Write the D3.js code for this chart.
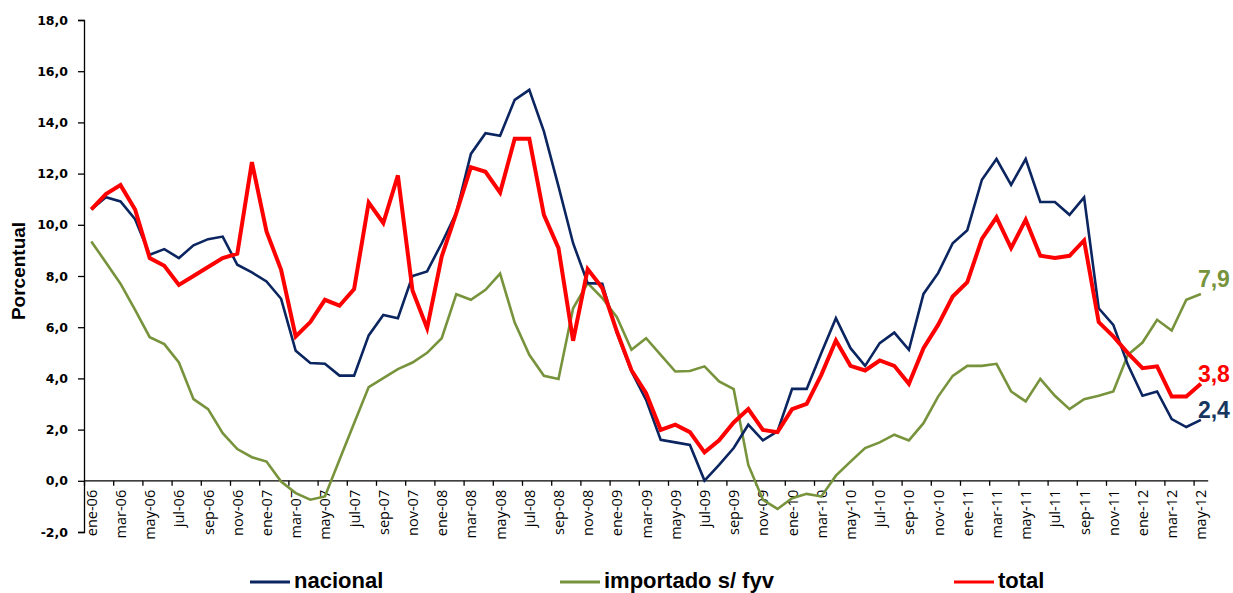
<!DOCTYPE html>
<html lang="es">
	<head>
		<meta charset="utf-8">
		<title>Porcentual</title>
		<script type="text/javascript" src="https://d3js.org/d3.v7.min.js"></script>
		<style>
			body { margin: 0; background: #fff; }
		</style>
	</head>
	<body>

		<script type="text/javascript">

			var w = 1233;
			var h = 593;

			// months ene-06 .. may-12
			var meses = ["ene","feb","mar","abr","may","jun","jul","ago","sep","oct","nov","dic"];
			var categories = [];
			for (var a = 6; a <= 12; a++) {
				for (var m = 0; m < 12; m++) {
					if (a === 12 && m > 4) break;
					categories.push(meses[m] + "-" + (a < 10 ? "0" + a : a));
				}
			}

			var nacional = [10.6,11.08,10.91,10.22,8.83,9.05,8.7,9.2,9.44,9.54,8.44,8.14,
				7.79,7.11,5.08,4.6,4.57,4.11,4.11,5.68,6.48,6.35,8.0,8.18,
				9.28,10.47,12.77,13.58,13.48,14.88,15.27,13.65,11.5,9.28,7.72,7.7,
				5.77,4.27,3.16,1.6,1.5,1.4,0.01,0.62,1.28,2.19,1.58,1.93,
				3.59,3.59,4.99,6.35,5.18,4.49,5.38,5.79,5.12,7.3,8.11,9.28,
				9.79,11.76,12.57,11.56,12.57,10.89,10.89,10.39,11.07,6.74,6.09,4.53,
				3.32,3.49,2.41,2.1,2.38];

			var importado = [9.35,8.53,7.7,6.68,5.61,5.34,4.62,3.19,2.8,1.86,1.24,0.92,
				0.75,-0.03,-0.48,-0.74,-0.61,0.82,2.25,3.66,4.01,4.36,4.62,5.0,
				5.57,7.29,7.07,7.46,8.09,6.18,4.92,4.1,3.98,6.74,7.72,7.14,
				6.39,5.12,5.57,4.92,4.27,4.29,4.47,3.88,3.58,0.62,-0.74,-1.1,
				-0.68,-0.51,-0.61,0.2,0.75,1.28,1.5,1.8,1.58,2.25,3.29,4.1,
				4.49,4.49,4.57,3.49,3.1,3.98,3.32,2.8,3.19,3.32,3.49,4.92,
				5.4,6.29,5.87,7.07,7.3];

			var total = [10.6,11.2,11.55,10.6,8.7,8.4,7.65,8.0,8.35,8.7,8.87,12.45,
				9.74,8.24,5.64,6.2,7.07,6.84,7.49,10.87,10.07,11.93,7.43,5.96,
				8.76,10.46,12.25,12.07,11.26,13.36,13.36,10.39,9.09,5.47,8.27,7.53,
				5.83,4.32,3.42,1.99,2.19,1.9,1.11,1.58,2.28,2.8,1.99,1.9,
				2.8,3.0,4.14,5.48,4.49,4.31,4.7,4.49,3.79,5.18,6.09,7.2,
				7.76,9.45,10.29,9.09,10.2,8.79,8.7,8.79,9.39,6.2,5.64,4.99,
				4.4,4.47,3.29,3.29,3.79];

			var yTicks = [-2,0,2,4,6,8,10,12,14,16,18];

			var seriesNames = ["nacional", "importado s/ fyv", "total"];
			var seriesColors = ["#0b2560", "#77933c", "#ff0000"];
			var seriesWidths = [2.6, 2.6, 4];
			var endLabels = ["2,4", "7,9", "3,8"];
			var endLabelColors = ["#17375e", "#77933c", "#ff0000"];

			var margin = {top: 20, left: 84};
			var catW = 14.6;
			var plotW = catW * categories.length;

			var xScale = d3.scaleLinear()
				.domain([-0.5, categories.length - 0.5])
				.range([margin.left, margin.left + plotW]);

			var yScale = d3.scaleLinear()
				.domain([-2, 18])
				.range([532, 20]);

			var es = d3.formatLocale({decimal: ",", thousands: ".", grouping: [3], currency: ["", ""], minus: "-"});
			var fmt = es.format(".1f");

			var svg = d3.select("body")
				.append("svg")
				.attr("width", w)
				.attr("height", h);

			// y axis
			var yAxis = d3.axisLeft(yScale)
				.tickValues(yTicks)
				.tickSize(6)
				.tickPadding(10)
				.tickFormat(fmt);

			var gy = svg.append("g")
				.attr("transform", "translate(" + margin.left + ",0)")
				.call(yAxis);
			gy.select(".domain").attr("stroke", "#000").attr("stroke-width", 1.3);
			gy.selectAll(".tick line").attr("stroke", "#000").attr("stroke-width", 1.3);
			gy.selectAll("text")
				.style("font-family", "'DejaVu Sans', Verdana, sans-serif")
				.style("font-weight", "bold")
				.style("font-size", "12.5px")
				.attr("fill", "#000");

			// x axis: tick marks on category boundaries, labels on every other category
			var tickIdx = d3.range(-0.5, categories.length, 2);
			var xTicks = d3.axisBottom(xScale)
				.tickValues(tickIdx)
				.tickSize(5)
				.tickFormat("");

			var gx = svg.append("g")
				.attr("transform", "translate(0," + yScale(0) + ")")
				.call(xTicks);
			gx.select(".domain").attr("stroke", "#000").attr("stroke-width", 1.3)
				.attr("d", "M" + margin.left + ",0H" + (margin.left + plotW));
			gx.selectAll(".tick line").attr("stroke", "#000").attr("stroke-width", 1.3);

			var labelIdx = d3.range(0, categories.length, 2);
			var xLabels = d3.axisBottom(xScale)
				.tickValues(labelIdx)
				.tickSize(0)
				.tickFormat(function(i) { return categories[i]; });

			var gxl = svg.append("g")
				.attr("transform", "translate(0," + yScale(0) + ")")
				.call(xLabels);
			gxl.select(".domain").remove();
			gxl.selectAll("text")
				.attr("transform", "rotate(-90)")
				.attr("x", -9)
				.attr("y", 0)
				.attr("dy", ".35em")
				.style("text-anchor", "end")
				.style("font-family", "'Open Sans', sans-serif")
				.style("font-size", "14.5px")
				.attr("fill", "#000");

			// y title
			svg.append("text")
				.attr("transform", "translate(25,271) rotate(-90)")
				.attr("text-anchor", "middle")
				.style("font-family", "'Liberation Sans', Arial, sans-serif")
				.style("font-weight", "bold")
				.style("font-size", "19px")
				.text("Porcentual");

			// lines
			var allSeries = [nacional, importado, total];
			var line = d3.line()
				.x(function(d, i) { return xScale(i); })
				.y(function(d) { return yScale(d); });

			var drawOrder = [1, 0, 2];
			drawOrder.forEach(function(k) {
				svg.append("path")
					.datum(allSeries[k])
					.attr("fill", "none")
					.attr("stroke", seriesColors[k])
					.attr("stroke-width", seriesWidths[k])
					.attr("stroke-linejoin", "miter")
					.attr("d", line);
			});

			// end labels
			var labelDy = [-10, -15, -10];
			allSeries.forEach(function(s, k) {
				var last = s.length - 1;
				svg.append("text")
					.attr("x", xScale(last) - 3)
					.attr("y", yScale(s[last]) + labelDy[k])
					.attr("dy", ".35em")
					.style("font-family", "'Liberation Sans', Arial, sans-serif")
					.style("font-weight", "bold")
					.style("font-size", "23px")
					.attr("fill", endLabelColors[k])
					.text(endLabels[k]);
			});

			// legend
			var legendX = [250, 560, 954];
			var legendY = 582;
			var legend = svg.selectAll(".legend")
				.data(seriesNames)
				.enter().append("g")
				.attr("class", "legend")
				.attr("transform", function(d, i) { return "translate(" + legendX[i] + "," + legendY + ")"; });

			legend.append("line")
				.attr("x1", 0)
				.attr("x2", 40)
				.attr("stroke", function(d, i) { return seriesColors[i]; })
				.attr("stroke-width", 3);

			legend.append("text")
				.attr("x", 44)
				.attr("y", 6)
				.style("font-family", "'Liberation Sans', Arial, sans-serif")
				.style("font-weight", "bold")
				.style("font-size", "22px")
				.text(function(d) { return d; });

		</script>
	</body>
</html>
